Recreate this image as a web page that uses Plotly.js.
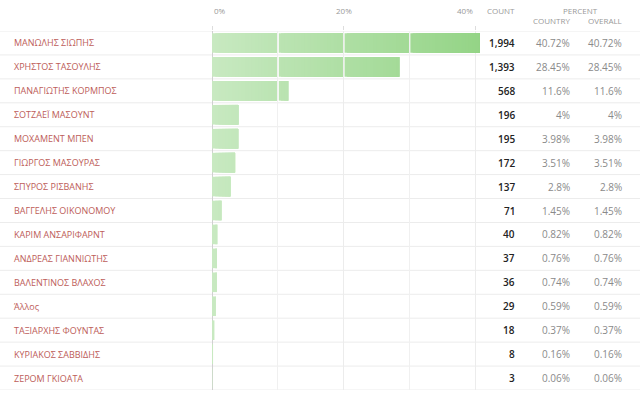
<!DOCTYPE html>
<html>
<head>
<meta charset="utf-8">
<script src="https://cdn.plot.ly/plotly-3.0.1.min.js"></script>
<style>html,body{margin:0;padding:0;background:#fff;}#chart{width:640px;height:398px;}</style>
</head>
<body>
<div id="chart"></div>
<script>
const names = ["ΜΑΝΩΛΗΣ ΣΙΩΠΗΣ","ΧΡΗΣΤΟΣ ΤΑΣΟΥΛΗΣ","ΠΑΝΑΓΙΩΤΗΣ ΚΟΡΜΠΟΣ","ΣΟΤΖΑΕΪ ΜΑΣΟΥΝΤ","ΜΟΧΑΜΕΝΤ ΜΠΕΝ","ΓΙΩΡΓΟΣ ΜΑΣΟΥΡΑΣ","ΣΠΥΡΟΣ ΡΙΣΒΑΝΗΣ","ΒΑΓΓΕΛΗΣ ΟΙΚΟΝΟΜΟΥ","ΚΑΡΙΜ ΑΝΣΑΡΙΦΑΡΝΤ","ΑΝΔΡΕΑΣ ΓΙΑΝΝΙΩΤΗΣ","ΒΑΛΕΝΤΙΝΟΣ ΒΛΑΧΟΣ","Άλλος","ΤΑΞΙΑΡΧΗΣ ΦΟΥΝΤΑΣ","ΚΥΡΙΑΚΟΣ ΣΑΒΒΙΔΗΣ","ΖΕΡΟΜ ΓΚΙΟΑΤΑ"];
const counts = [1994,1393,568,196,195,172,137,71,40,37,36,29,18,8,3];
const pctCountry = [40.72,28.45,11.6,4,3.98,3.51,2.8,1.45,0.82,0.76,0.74,0.59,0.37,0.16,0.06];
const pctOverall = [40.72,28.45,11.6,4,3.98,3.51,2.8,1.45,0.82,0.76,0.74,0.59,0.37,0.16,0.06];
const tickVals = [0,20,40];
const tickLabels = ["0%","20%","40%"];
const headers = {count:"COUNT", percent:"PERCENT", country:"COUNTRY", overall:"OVERALL"};

const XMAX = 40.75;
const STEP = 0.5;
const GAP = 0.16;
const SPLITS = [10,20,30];
const c0 = [200,233,193], c1 = [148,212,134];
function mix(t){
  const c = c0.map((v,i)=>Math.round(v+(c1[i]-v)*t));
  return `rgb(${c[0]},${c[1]},${c[2]})`;
}
const idx = names.map((_,i)=>i);
const maxV = Math.max(...pctCountry);
const traces = [];
for(let k=0; k*STEP < maxV; k++){
  const lo = k*STEP;
  const atGrid = SPLITS.some(s=>Math.abs(s-lo)<1e-9);
  const start = atGrid ? lo+GAP : lo;
  const nextSplit = SPLITS.find(s=>s>lo+1e-9);
  const segEnd = nextSplit===undefined ? Infinity : nextSplit - GAP;
  const xs = [], bases = [];
  pctCountry.forEach(v=>{
    const e = Math.min(v, segEnd);
    const w = Math.max(0, e - start);
    xs.push(w); bases.push(start);
  });
  traces.push({
    type:'bar', orientation:'h', y: idx, x: xs, base: bases,
    marker:{color: mix(Math.min(1,(lo+STEP/2)/XMAX)), line:{width:0}},
    hoverinfo:'skip', showlegend:false, width:0.82
  });
}

const plotTop = 31, plotBot = 390, H = 398;
function py(p){ return (plotBot - p)/(plotBot - plotTop); }

const ann = [];
const font = "Open Sans, Arial, sans-serif";
names.forEach((n,i)=>{
  ann.push({xref:'paper', yref:'y', x:12/640, y:i, xanchor:'left', yanchor:'middle', text:n, showarrow:false, font:{family:font, size:9, color:'#bd5d59'}});
  ann.push({xref:'paper', yref:'y', x:517/640, y:i, xanchor:'right', yanchor:'middle', text:counts[i].toLocaleString('en-US'), showarrow:false, font:{family:font, size:10, color:'#222', weight:600}});
  ann.push({xref:'paper', yref:'y', x:572/640, y:i, xanchor:'right', yanchor:'middle', text:pctCountry[i]+'%', showarrow:false, font:{family:font, size:10, color:'#8a8a8a'}});
  ann.push({xref:'paper', yref:'y', x:624/640, y:i, xanchor:'right', yanchor:'middle', text:pctOverall[i]+'%', showarrow:false, font:{family:font, size:10, color:'#8a8a8a'}});
});
tickVals.forEach((v,i)=>{
  ann.push({xref:'x', yref:'paper', x:v, y:py(10), xanchor: i===0?'left':(i===tickVals.length-1?'right':'center'), yanchor:'middle', text:tickLabels[i], showarrow:false, font:{family:font, size:8, color:'#999'}});
});
const hf = {family:font, size:8, color:'#999'};
ann.push({xref:'paper', yref:'paper', x:517/640, y:py(10), xanchor:'right', yanchor:'middle', text:headers.count, showarrow:false, font:hf});
ann.push({xref:'paper', yref:'paper', x:580/640, y:py(10), xanchor:'center', yanchor:'middle', text:headers.percent, showarrow:false, font:hf});
ann.push({xref:'paper', yref:'paper', x:572/640, y:py(21), xanchor:'right', yanchor:'middle', text:headers.country, showarrow:false, font:hf});
ann.push({xref:'paper', yref:'paper', x:624/640, y:py(21), xanchor:'right', yanchor:'middle', text:headers.overall, showarrow:false, font:hf});

const shapes = [];
for(let i=0;i<=names.length;i++){
  shapes.push({type:'line', xref:'paper', yref:'y', x0:0, x1:1, y0:i-0.5, y1:i-0.5, line:{color:'#ececec', width:1}, layer:'below'});
}

const layout = {
  width:640, height:398,
  margin:{l:0, r:0, t:plotTop, b:H-plotBot, pad:0},
  paper_bgcolor:'#fff', plot_bgcolor:'rgba(0,0,0,0)',
  barmode:'overlay',
  xaxis:{domain:[212/640, 480/640], range:[0, XMAX], side:'top', tickvals:tickVals, showticklabels:false,
    ticks:'outside', ticklen:4, tickcolor:'#ddd', showgrid:true, gridcolor:'#ececec', gridwidth:1,
    minor:{dtick:10, tick0:0, showgrid:true, gridcolor:'#f0f0f0', ticks:''},
    zeroline:true, zerolinecolor:'#d0d0d0', zerolinewidth:1, showline:false, fixedrange:true},
  yaxis:{range:[names.length-0.5, -0.5], showticklabels:false, showgrid:false, zeroline:false, showline:false, ticks:'', fixedrange:true},
  annotations: ann,
  shapes: shapes,
  font:{family:font}
};
Plotly.newPlot('chart', traces, layout, {staticPlot:true, displayModeBar:false});
</script>
</body>
</html>
